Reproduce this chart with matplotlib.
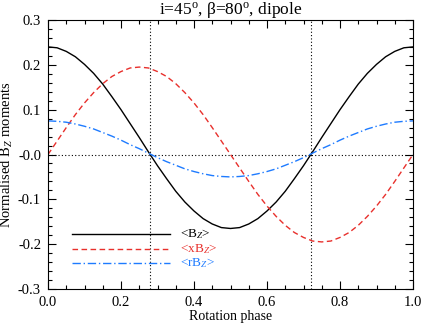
import numpy as np
import matplotlib
matplotlib.use("Agg")
import matplotlib.pyplot as plt
from matplotlib.ticker import MultipleLocator, FuncFormatter

plt.rcParams['font.family'] = ['Liberation Serif', 'DejaVu Serif']
plt.rcParams['mathtext.fontset'] = 'custom'
plt.rcParams['mathtext.rm'] = 'Liberation Serif'
plt.rcParams['mathtext.it'] = 'Liberation Serif:italic'

# values, every 0.025 in phase
phase = np.arange(41) * 0.025
bz = [0.240, 0.238, 0.230, 0.218, 0.201, 0.181, 0.157, 0.129, 0.100, 0.069, 0.038,
      0.006, -0.025, -0.054, -0.082, -0.106, -0.126, -0.143, -0.155, -0.163, -0.165,
      -0.163, -0.155, -0.143, -0.126, -0.106, -0.082, -0.054, -0.025, 0.006, 0.038,
      0.069, 0.100, 0.129, 0.157, 0.181, 0.201, 0.218, 0.230, 0.238, 0.240]
xbz = [0.000, 0.030, 0.060, 0.089, 0.115, 0.138, 0.158, 0.174, 0.185, 0.193, 0.195,
       0.193, 0.185, 0.174, 0.158, 0.138, 0.115, 0.089, 0.060, 0.030, 0.000,
       -0.030, -0.060, -0.089, -0.115, -0.138, -0.158, -0.174, -0.185, -0.193, -0.195,
       -0.193, -0.185, -0.174, -0.158, -0.138, -0.115, -0.089, -0.060, -0.030, 0.000]
rbz = [0.075, 0.074, 0.072, 0.068, 0.063, 0.057, 0.049, 0.041, 0.032, 0.022, 0.013,
       0.003, -0.007, -0.016, -0.024, -0.032, -0.038, -0.043, -0.047, -0.049, -0.050,
       -0.049, -0.047, -0.043, -0.038, -0.032, -0.024, -0.016, -0.007, 0.003, 0.013,
       0.022, 0.032, 0.041, 0.049, 0.057, 0.063, 0.068, 0.072, 0.074, 0.075]
zero_phases = [0.28, 0.72]

red = '#e8302c'
blue = '#1e7bff'
dash = (0, (4, 2.5))
dashdot = (0, (6, 2, 1, 2))

fig = plt.figure(figsize=(4.22, 3.27), dpi=100)
ax = fig.add_axes([48/422, 1 - 289/327, 365/422, 269/327])

ax.axhline(0, color='black', lw=0.8, ls=(0, (1, 2)))
for p in zero_phases:
    ax.axvline(p, color='black', lw=0.8, ls=(0, (1, 2)))

ax.plot(phase, bz, color='black', lw=1.0)
ax.plot(phase, xbz, color=red, lw=1.0, ls=dash)
ax.plot(phase, rbz, color=blue, lw=1.0, ls=dashdot)

# legend drawn by hand like the IDL one
leg_y = [-0.177, -0.211, -0.243]
labels = [r'<B$_Z$>', r'<xB$_Z$>', r'<rB$_Z$>']
colors = ['black', red, blue]
styles = ['-', dash, dashdot]
for y, lab, c, s in zip(leg_y, labels, colors, styles):
    ax.plot([0.066, 0.334], [y, y], color=c, ls=s, lw=1.0)
    ax.text(0.362, y, lab, color=c, fontsize=9.5, va='center', ha='left')

ax.set_xlim(0, 1)
ax.set_ylim(-0.3, 0.3)
ax.xaxis.set_major_locator(MultipleLocator(0.2))
ax.xaxis.set_minor_locator(MultipleLocator(0.05))
ax.yaxis.set_major_locator(MultipleLocator(0.1))
ax.yaxis.set_minor_locator(MultipleLocator(0.02))
ax.yaxis.set_major_formatter(FuncFormatter(lambda v, pos: '-0.0' if abs(v) < 1e-9 else '%.1f' % v))
ax.tick_params(which='both', direction='in', top=True, right=True, labelsize=10.5)
ax.tick_params(which='major', length=6, width=0.8, pad=5)
ax.tick_params(which='minor', length=3, width=0.8)
for sp in ax.spines.values():
    sp.set_linewidth(0.8)

ax.set_xlabel('Rotation phase', fontsize=10, labelpad=1)
ax.set_ylabel(r'Normalised B$_Z$ moments', fontsize=10.5, labelpad=2)
ax.set_title(r'i=45$^{\rm o}$, β=80$^{\rm o}$, dipole', fontsize=12.5, pad=2)

fig.savefig('out.png', dpi=100)
